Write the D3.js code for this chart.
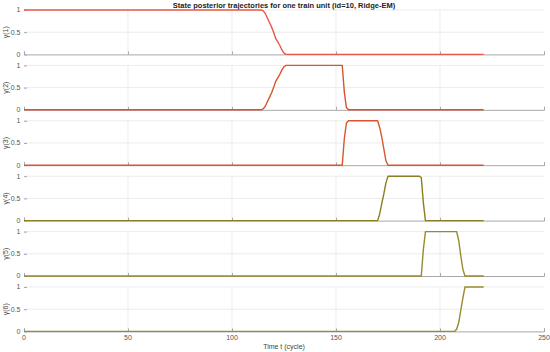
<!DOCTYPE html>
<html>
<head>
<meta charset="utf-8">
<script src="https://cdn.jsdelivr.net/npm/d3@7"></script>
<style>
  body { margin: 0; background: #fff; }
  svg { display: block; font-family: "Liberation Sans", Arial, sans-serif; }
</style>
</head>
<body>
<div id="viz"></div>
<script>
// breakpoints [t, gamma] for each state
const gamma1 = [[0,1],[114,1],[115,0.98],[116,0.92],[117,0.82],[118,0.72],[119,0.62],[120,0.5],[121,0.36],[122,0.28],[123,0.2],[124,0.1],[125,0.03],[126,0],[221,0]];
const gamma2 = [[0,0],[114,0],[115,0.02],[116,0.08],[117,0.18],[118,0.28],[119,0.38],[120,0.5],[121,0.64],[122,0.72],[123,0.8],[124,0.9],[125,0.97],[126,1],[153,1],[154,0.4],[155,0.05],[156,0],[221,0]];
const gamma3 = [[0,0],[153,0],[154,0.6],[155,0.95],[156,1],[170,1],[171,0.85],[172,0.63],[173,0.37],[174,0.1],[175,0],[221,0]];
const gamma4 = [[0,0],[170,0],[171,0.15],[172,0.38],[173,0.6],[174,0.85],[175,1],[190,1],[191,0.97],[192,0.4],[193,0],[221,0]];
const gamma5 = [[0,0],[191,0],[192,0.6],[193,1],[208,1],[209,0.8],[210,0.45],[211,0.15],[212,0],[221,0]];
const gamma6 = [[0,0],[207,0],[208,0.05],[209,0.2],[210,0.48],[211,0.75],[212,1],[221,1]];

const series = [gamma1, gamma2, gamma3, gamma4, gamma5, gamma6];
const yLabels = ['γ(1)', 'γ(2)', 'γ(3)', 'γ(4)', 'γ(5)', 'γ(6)'];
const colors = ['#e8584a', '#d9532b', '#dc5530', '#8b7d22', '#9a8a2c', '#998b2e'];
const xTicks = [0, 50, 100, 150, 200, 250];
const yTicks = [0, 0.5, 1];
const title = 'State posterior trajectories for one train unit (id=10, Ridge-EM)';
const xLabel = 'Time t (cycle)';

const width = 550, height = 352;
const left = 24, right = 544;
const top0 = 10, pitch = 55.4, ph = 44.4;

const svg = d3.select('#viz').append('svg')
  .attr('width', width).attr('height', height);

const x = d3.scaleLinear().domain([0, 250]).range([left, right]);

svg.append('text')
  .attr('x', (left + right) / 2).attr('y', 7.5)
  .attr('text-anchor', 'middle')
  .attr('font-size', '7.5px').attr('font-weight', 'bold')
  .attr('fill', '#222')
  .text(title);

series.forEach((s, i) => {
  const top = top0 + i * pitch;
  const y = d3.scaleLinear().domain([0, 1]).range([top + ph, top]);
  const g = svg.append('g');

  // grid
  g.selectAll('.vg').data(xTicks.slice(1, -1)).join('line')
    .attr('x1', d => x(d)).attr('x2', d => x(d))
    .attr('y1', top).attr('y2', top + ph)
    .attr('stroke', '#e4e4e4').attr('stroke-width', 0.7);
  g.selectAll('.hg').data([0.5, 1]).join('line')
    .attr('x1', left).attr('x2', right)
    .attr('y1', d => y(d)).attr('y2', d => y(d))
    .attr('stroke', '#e4e4e4').attr('stroke-width', 0.7);

  // bottom axis
  const xa = g.append('g')
    .attr('transform', `translate(0,${top + ph})`)
    .call(d3.axisTop(x).tickValues(xTicks).tickSize(3).tickFormat(''));
  xa.select('.domain').attr('stroke', '#a8a8a8');
  xa.selectAll('.tick line').attr('stroke', '#a8a8a8');

  // left axis ticks
  const ya = g.append('g')
    .attr('transform', `translate(${left},0)`)
    .call(d3.axisRight(y).tickValues(yTicks).tickSize(3).tickFormat(''));
  ya.select('.domain').remove();
  ya.selectAll('.tick line').attr('stroke', '#a8a8a8');
  g.selectAll('.yl').data(yTicks).join('text')
    .attr('x', left - 3.5).attr('y', d => y(d) + 2.4)
    .attr('text-anchor', 'end')
    .attr('font-size', '7px').attr('fill', '#555')
    .text(d => d);

  g.append('text')
    .attr('transform', `translate(8,${top + ph / 2}) rotate(-90)`)
    .attr('text-anchor', 'middle')
    .attr('font-size', '7px').attr('fill', '#444')
    .text(yLabels[i]);

  const line = d3.line().x(d => x(d[0])).y(d => y(d[1]));
  g.append('path')
    .datum(s)
    .attr('fill', 'none')
    .attr('stroke', colors[i])
    .attr('stroke-width', 1.4)
    .attr('stroke-linejoin', 'round')
    .attr('d', line);
});

const bottom = top0 + 5 * pitch + ph;
svg.selectAll('.xl').data(xTicks).join('text')
  .attr('x', d => x(d)).attr('y', bottom + 8.5)
  .attr('text-anchor', 'middle')
  .attr('font-size', '7px').attr('fill', '#555')
  .text(d => d);

svg.append('text')
  .attr('x', (left + right) / 2).attr('y', bottom + 17.5)
  .attr('text-anchor', 'middle')
  .attr('font-size', '7px').attr('fill', '#444')
  .text(xLabel);
</script>
</body>
</html>
